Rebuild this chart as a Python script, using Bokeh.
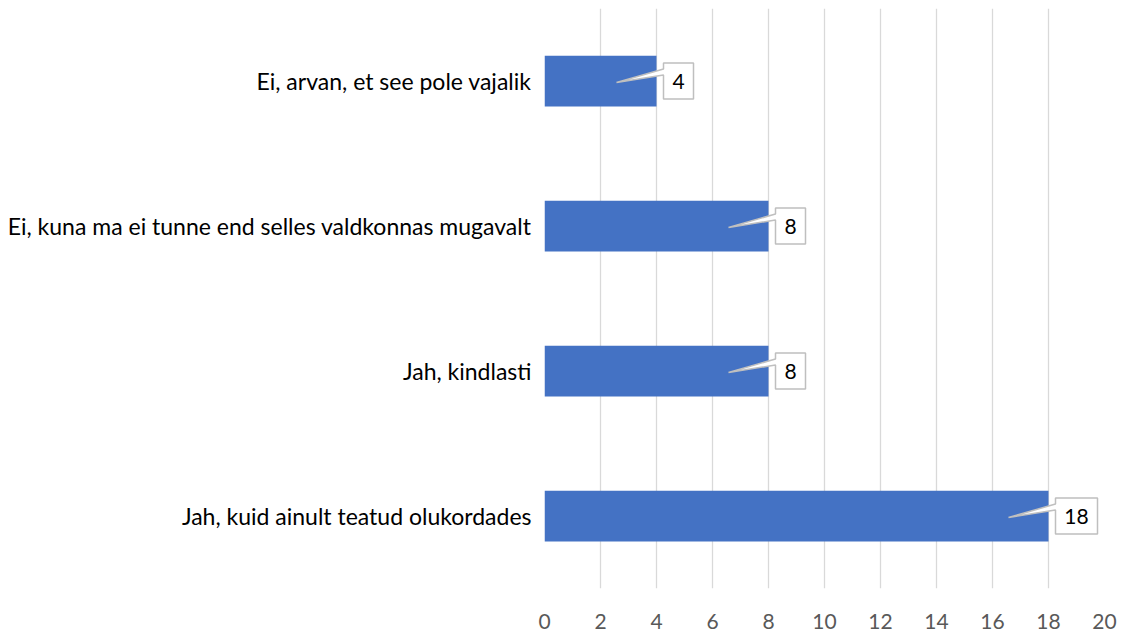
from bokeh.plotting import figure
from bokeh.models import Range1d, FixedTicker
from bokeh.core.properties import value
from bokeh.embed import file_html
from bokeh.resources import INLINE

categories = [
    "Jah, kuid ainult teatud olukordades",
    "Jah, kindlasti",
    "Ei, kuna ma ei tunne end selles valdkonnas mugavalt",
    "Ei, arvan, et see pole vajalik",
]
counts = [18, 8, 8, 4]
x_ticks = [0, 2, 4, 6, 8, 10, 12, 14, 16, 18, 20]

FONT = "Lato"
FW, FH = 560, 580
XMIN, XMAX = 0, 20
YMIN, YMAX = -0.5, len(categories) - 0.5
px_x = (XMAX - XMIN) / FW
px_y = (YMAX - YMIN) / FH

ypos = list(range(len(categories)))

p = figure(width=1121, height=635, output_backend="svg", toolbar_location=None,
           x_range=Range1d(XMIN, XMAX), y_range=Range1d(YMIN, YMAX),
           frame_width=FW, frame_height=FH,
           min_border_left=544, min_border_right=17, min_border_top=8, min_border_bottom=47)
p.outline_line_color = None
p.background_fill_color = "white"

p.xgrid.ticker = FixedTicker(ticks=x_ticks)
p.xgrid.grid_line_color = "#d9d9d9"
p.xgrid.grid_line_width = 1.3
p.ygrid.grid_line_color = None

p.xaxis.ticker = FixedTicker(ticks=x_ticks)
p.xaxis.axis_line_color = None
p.xaxis.major_tick_line_color = None
p.xaxis.minor_tick_line_color = None
p.xaxis.major_label_text_font = FONT
p.xaxis.major_label_text_font_size = "21px"
p.xaxis.major_label_text_color = "#595959"
p.xaxis.major_label_standoff = 19

p.yaxis.ticker = FixedTicker(ticks=ypos)
p.yaxis.major_label_overrides = {i: c for i, c in zip(ypos, categories)}
p.yaxis.axis_line_color = None
p.yaxis.major_tick_line_color = None
p.yaxis.minor_tick_line_color = None
p.yaxis.major_label_text_font = FONT
p.yaxis.major_label_text_font_size = "23px"
p.yaxis.major_label_text_color = "black"
p.yaxis.major_label_standoff = 7

p.hbar(y=ypos, left=0, right=counts, height=0.35, fill_color="#4472c4", line_color=None)

# callouts
xs_list, ys_list, tx, ty, tt = [], [], [], [], []
for y, v in zip(ypos, counts):
    label = str(v)
    w = 18 + 12 * len(label)
    L = v + 7 * px_x
    R = L + w * px_x
    top = y + 18 * px_y
    bot = y - 18 * px_y
    tip_x = v - 40 * px_x
    tip_y = y - 1.5 * px_y
    xs_list.append([L, R, R, L, L, tip_x, L])
    ys_list.append([top, top, bot, bot, y + 6 * px_y, tip_y, y + 12 * px_y])
    tx.append((L + R) / 2)
    ty.append(y)
    tt.append(label)

p.patches(xs=xs_list, ys=ys_list, fill_color="white", line_color="#bfbfbf", line_width=1.5)
p.text(x=tx, y=ty, text=tt, text_align="center", text_baseline="middle",
       text_font=value(FONT), text_font_size="21px", text_color="black")

open("out.html", "w").write(file_html(p, INLINE))
